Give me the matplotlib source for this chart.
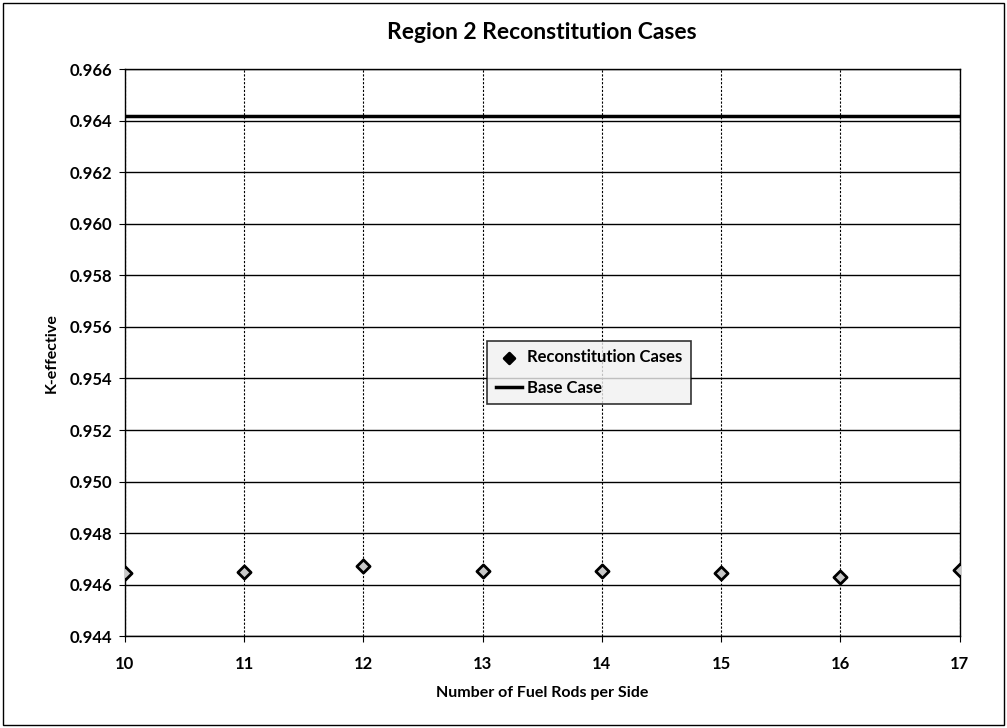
import matplotlib.pyplot as plt
from matplotlib.patches import Rectangle

plt.rcParams['font.family'] = ['Lato', 'DejaVu Sans']

rods_per_side = [10, 11, 12, 13, 14, 15, 16, 17]
k_recon = [0.94647, 0.94651, 0.94671, 0.94653, 0.94655, 0.94647, 0.94630, 0.94659]
k_base = 0.96420
y_ticks = [0.944, 0.946, 0.948, 0.950, 0.952, 0.954, 0.956, 0.958, 0.960, 0.962, 0.964, 0.966]

fig = plt.figure(figsize=(10.07, 7.28), dpi=100)
ax = fig.add_axes([0.124, 0.126, 0.829, 0.779])

# frame round the whole chart
fig.patches.append(Rectangle((0.003, 0.004), 0.994, 0.992, transform=fig.transFigure,
                             fill=False, edgecolor='black', linewidth=1.0))

ax.axhline(k_base, color='black', linewidth=2.5, zorder=3, label='Base Case')
ax.scatter(rods_per_side, k_recon, marker='D', s=45, facecolor='#c8c8c8',
           edgecolor='black', linewidth=2.0, zorder=4, label='Reconstitution Cases')

ax.set_xlim(10, 17)
ax.set_ylim(0.944, 0.966)
ax.set_yticks(y_ticks)
ax.set_yticklabels([f'{v:.3f}' for v in y_ticks])
ax.set_xticks(rods_per_side)

ax.grid(axis='y', color='black', linewidth=1.0)
ax.grid(axis='x', color='black', linewidth=0.8, linestyle=(0, (2, 1.5)))
ax.set_axisbelow(True)
for s in ax.spines.values():
    s.set_linewidth(1.0)

ax.tick_params(axis='y', labelsize=12, length=4, direction='out', pad=5)
ax.tick_params(axis='x', labelsize=12, length=4, direction='out', pad=10)
for lbl in ax.get_xticklabels() + ax.get_yticklabels():
    lbl.set_fontweight('bold')

ax.set_title('Region 2 Reconstitution Cases', fontsize=16.5, fontweight='bold', pad=22)
ax.set_xlabel('Number of Fuel Rods per Side', fontsize=11.5, fontweight='bold', labelpad=10)
ax.set_ylabel('K-effective', fontsize=11.5, fontweight='bold', labelpad=8)

handles, labels = ax.get_legend_handles_labels()
leg = ax.legend(handles[::-1], labels[::-1], loc='upper left', bbox_to_anchor=(0.434, 0.521),
                frameon=True, fancybox=False, edgecolor='black',
                prop={'weight': 'bold', 'size': 12}, handlelength=1.6, handletextpad=0.3,
                borderpad=0.5, labelspacing=0.9, borderaxespad=0)
leg.get_frame().set_linewidth(1.2)
leg.get_frame().set_facecolor('#f0f0f0')
leg.legend_handles[0].set_facecolor('black')
leg.legend_handles[0].set_sizes([30])

fig.savefig('out.png', dpi=100)
